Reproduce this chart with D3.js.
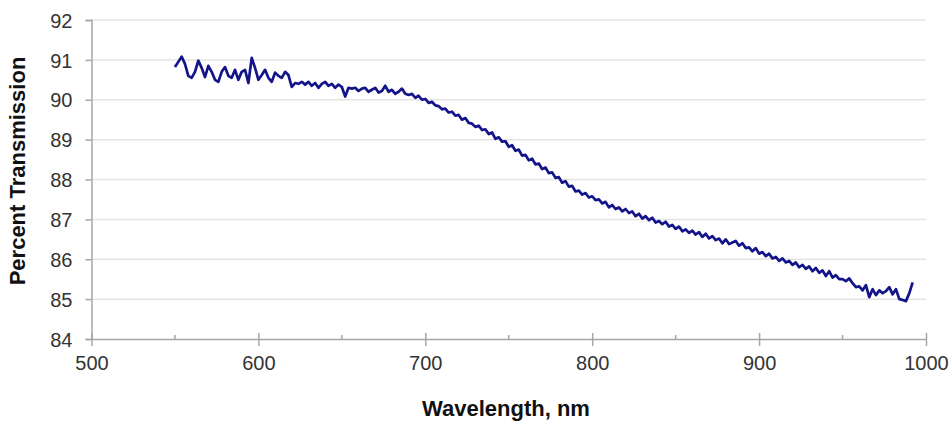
<!DOCTYPE html>
<html>
<head>
<meta charset="utf-8">
<script src="https://cdn.jsdelivr.net/npm/d3@7"></script>
<style>
  body { margin: 0; background: #fff; }
  svg text { font-family: "Liberation Sans", Arial, sans-serif; }
</style>
</head>
<body>
<svg id="chart" width="951" height="426"></svg>
<script>
// sampling grid of the spectrum (nm)
const waveStart = 550;
const waveStep = 2;

// percent transmission, one value per 2 nm from 550 nm
const transmission = [
  90.82, 90.95, 91.08, 90.9, 90.6, 90.55, 90.7, 90.98, 90.8, 90.57,
  90.85, 90.7, 90.5, 90.45, 90.7, 90.82, 90.6, 90.55, 90.75, 90.5,
  90.7, 90.75, 90.42, 91.05, 90.8, 90.5, 90.62, 90.75, 90.55, 90.45,
  90.68, 90.6, 90.55, 90.7, 90.62, 90.32, 90.42, 90.4, 90.45, 90.38,
  90.45, 90.35, 90.42, 90.3, 90.4, 90.45, 90.35, 90.4, 90.3, 90.38,
  90.32, 90.08, 90.3, 90.28, 90.3, 90.22, 90.28, 90.3, 90.2, 90.25,
  90.3, 90.18, 90.22, 90.35, 90.2, 90.25, 90.15, 90.2, 90.28, 90.15,
  90.12, 90.15, 90.05, 90.1, 90.0, 90.02, 89.92, 89.95, 89.86, 89.84,
  89.76, 89.78, 89.68, 89.7, 89.6, 89.62, 89.5, 89.54, 89.42, 89.4,
  89.32, 89.35, 89.24, 89.26, 89.14, 89.18, 89.02, 89.06, 88.95, 88.96,
  88.82, 88.86, 88.72, 88.75, 88.6, 88.62, 88.48, 88.52, 88.38, 88.4,
  88.26, 88.3, 88.16, 88.18, 88.04, 88.06, 87.92, 87.96, 87.82, 87.84,
  87.7, 87.72, 87.62, 87.66, 87.55, 87.58, 87.48, 87.5, 87.4, 87.44,
  87.3, 87.36, 87.26, 87.3, 87.2, 87.26, 87.16, 87.2, 87.08, 87.14,
  87.02, 87.08, 86.98, 87.04, 86.92, 86.96, 86.88, 86.94, 86.82, 86.86,
  86.76, 86.82, 86.7, 86.75, 86.66, 86.72, 86.62, 86.68, 86.56, 86.64,
  86.52, 86.58, 86.48, 86.52, 86.4, 86.5, 86.38, 86.42, 86.46, 86.34,
  86.4, 86.28, 86.3, 86.2, 86.28, 86.14, 86.18, 86.08, 86.14, 86.02,
  86.06, 85.96, 86.02, 85.92, 85.96, 85.86, 85.92, 85.8, 85.86, 85.76,
  85.82, 85.7, 85.78, 85.66, 85.72, 85.58, 85.7, 85.54, 85.6, 85.5,
  85.5, 85.45, 85.52, 85.4, 85.3, 85.32, 85.22, 85.35, 85.05, 85.25,
  85.1, 85.22, 85.15, 85.2, 85.3, 85.12, 85.25, 85.0, 84.98, 84.95,
  85.15, 85.42
];

const xTicks = [500, 600, 700, 800, 900, 1000];
const xMinorTicks = [550, 650, 750, 850, 950];
const yTicks = [84, 85, 86, 87, 88, 89, 90, 91, 92];

const data = transmission.map((t, i) => ({ wl: waveStart + i * waveStep, t }));

const svg = d3.select("#chart");

const x = d3.scaleLinear().domain([500, 1000]).range([91.5, 926]);
const y = d3.scaleLinear().domain([84, 92]).range([339, 20]);

// horizontal gridlines
svg.append("g")
  .selectAll("line")
  .data(yTicks.filter((d) => d > 84))
  .join("line")
  .attr("x1", x(500))
  .attr("x2", x(1000))
  .attr("y1", (d) => y(d))
  .attr("y2", (d) => y(d))
  .attr("stroke", "#e4e4e4")
  .attr("stroke-width", 1.5);

// y axis
const yAxis = svg.append("g")
  .attr("transform", `translate(${x(500)},0)`)
  .call(d3.axisLeft(y).tickValues(yTicks).tickSize(6).tickPadding(13));
yAxis.select(".domain").attr("stroke", "#a6a6a6").attr("stroke-width", 1.5);
yAxis.selectAll(".tick line").attr("stroke", "#a6a6a6").attr("stroke-width", 1.5);
yAxis.selectAll(".tick text")
  .attr("font-size", 20)
  .attr("fill", "#333")
  .attr("dy", "0.36em");

// x axis
const xAxis = svg.append("g")
  .attr("transform", `translate(0,${y(84)})`)
  .call(d3.axisBottom(x).tickValues(xTicks).tickFormat(d3.format("d"))
    .tickSize(7).tickPadding(10).tickSizeOuter(0));
xAxis.select(".domain").attr("stroke", "#a6a6a6").attr("stroke-width", 1.5);
xAxis.selectAll(".tick line").attr("y1", -6).attr("stroke", "#a6a6a6").attr("stroke-width", 1.5);
xAxis.selectAll(".tick text")
  .attr("font-size", 20)
  .attr("fill", "#333");

// minor x ticks, inside only
xAxis.selectAll("line.minor")
  .data(xMinorTicks)
  .join("line")
  .attr("class", "minor")
  .attr("x1", (d) => x(d))
  .attr("x2", (d) => x(d))
  .attr("y1", -4)
  .attr("y2", 0)
  .attr("stroke", "#a6a6a6")
  .attr("stroke-width", 1.5);

svg.selectAll(".domain").attr("fill", "none");

// spectrum line
const line = d3.line()
  .x((d) => x(d.wl))
  .y((d) => y(d.t));

svg.append("path")
  .datum(data)
  .attr("fill", "none")
  .attr("stroke", "#14148a")
  .attr("stroke-width", 2.7)
  .attr("stroke-linejoin", "round")
  .attr("d", line);

// axis titles
svg.append("text")
  .attr("x", 506)
  .attr("y", 416)
  .attr("text-anchor", "middle")
  .attr("font-size", 22)
  .attr("font-weight", "bold")
  .attr("fill", "#111")
  .text("Wavelength, nm");

svg.append("text")
  .attr("transform", "translate(25,171) rotate(-90)")
  .attr("text-anchor", "middle")
  .attr("font-size", 22)
  .attr("font-weight", "bold")
  .attr("fill", "#111")
  .text("Percent Transmission");
</script>
</body>
</html>
